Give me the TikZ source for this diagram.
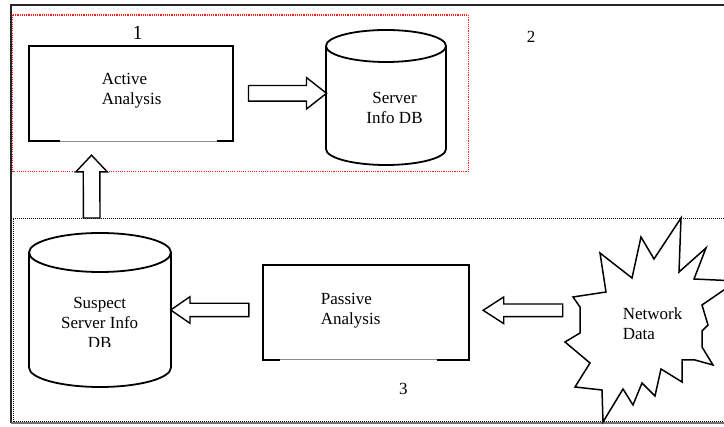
\documentclass[tikz,border=0pt]{standalone}
\usepackage{fontspec}
\setmainfont{Liberation Serif}
\usetikzlibrary{calc}

\tikzset{
  txt/.style={font=\fontsize{17}{20}\selectfont, inner sep=0pt},
  boxline/.style={line width=1.8pt, black},
  thinline/.style={line width=0.8pt, black!45},
  fatline/.style={line width=1.4pt, black, fill=white},
  dbspace/.style={inner sep=0pt, outer sep=0pt},
}

% hollow block arrow: tail, tip, half shaft, half head, head length
\newcommand\fatarrow[5]{%
  \coordinate (hb) at ($(#2)!#5!(#1)$);
  \draw[fatline] ($(#1)!#3!90:(#2)$) -- ($(hb)!#3!90:(#2)$) -- ($(hb)!#4!90:(#2)$) -- (#2)
    -- ($(hb)!#4!-90:(#2)$) -- ($(hb)!#3!-90:(#2)$) -- ($(#1)!#3!-90:(#2)$) -- cycle;
}
% upright drum round a node: node, half width, depth of the ends
\newcommand\drum[3]{%
  \draw[boxline] ($(#1.north)+(0pt,-#3)$) ellipse [x radius=#2, y radius=#3];
  \draw[boxline] ($(#1.north west)+(0pt,-#3)$) -- ($(#1.south west)+(0pt,#3)$)
    arc[start angle=180, end angle=360, x radius=#2, y radius=#3]
    -- ($(#1.north east)+(0pt,-#3)$);
}

\begin{document}
\begin{tikzpicture}[x=1pt,y=-1pt]
\clip (0,0) rectangle (724,427);
% outer frame
\draw[line width=1.5pt, black!85] (740,5) -- (11,5) -- (11,423);
\draw[line width=1.2pt, black!55] (11,423) -- (740,423);
% the two groups
\draw[red!90, line width=1.1pt, dash pattern=on 1.1pt off 1.1pt] (12.7,15) rectangle (468.3,171.7);
\draw[line width=1pt, dash pattern=on 1pt off 1pt] (740,218.3) -- (13,218.3) -- (13,422) -- (740,422);

\node[txt, font=\fontsize{20}{24}\selectfont, anchor=base] (n1) at (137.5,40) {1};
\node[txt, anchor=base] (n2) at (531,42.3) {2};
\node[txt, anchor=base] (n3) at (403.3,395) {3};

% active analysis
\node[minimum width=204pt, minimum height=95pt, inner sep=0pt] (act) at (131,93.5) {};
\draw[boxline] ($(act.south west)+(31,0)$) -- (act.south west) -- (act.north west)
  -- (act.north east) -- (act.south east) -- ++(-16,0);
\draw[thinline] ($(act.south west)+(31,0)$) -- ($(act.south east)+(-16,0)$);
\node[txt, align=left, anchor=north west] (actlbl) at (101.7,72.7) {Active\\Analysis};

% server info db
\node[dbspace, minimum width=120pt, minimum height=135pt] (srv) at (386,97.5) {};
\drum{srv}{60pt}{16pt}
\node[txt, align=center, anchor=north] (srvlbl) at (394.5,91.8) {Server\\Info DB};

% suspect server info db
\node[dbspace, minimum width=142pt, minimum height=154pt] (susp) at (100,310) {};
\drum{susp}{71pt}{19.5pt}
\begin{scope}
\clip (0,0) rectangle (724,346.5);
\node[txt, align=center, anchor=north] (susplbl) at (99.7,296.8) {Suspect\\Server Info\\DB};
\end{scope}

% passive analysis
\node[minimum width=205pt, minimum height=94pt, inner sep=0pt] (pas) at (366,312.5) {};
\draw[boxline] ($(pas.south west)+(16.5,0)$) -- (pas.south west) -- (pas.north west)
  -- (pas.north east) -- (pas.south east) -- ++(-31.6,0);
\draw[thinline] ($(pas.south west)+(16.5,0)$) -- ($(pas.south east)+(-31.6,0)$);
\node[txt, align=left, anchor=north west] (paslbl) at (320.7,293.4) {Passive\\Analysis};

% network data burst
\draw[line width=1.5pt] (573,297) -- (606,292) -- (600,253) -- (632,278) -- (641,237)
  -- (654,259) -- (681,218) -- (679,272) -- (706,248) -- (694,279) -- (737,281)
  -- (702,305) -- (708,325) -- (702,331) -- (702,347) -- (713,365) -- (695,360)
  -- (682,360) -- (682,382) -- (661,369) -- (655,396) -- (642,383) -- (633,405)
  -- (623,389) -- (603,422) -- (602,390) -- (575,387) -- (590,363) -- (565,342)
  -- (580,333) -- (580,307) -- cycle;
\node[txt, align=left, anchor=north west] (net) at (622.7,307.7) {Network\\Data};

% arrows between the parts
\coordinate (r1) at ($(act.east)+(15.3,-0.2)$);
\coordinate (r2) at ($(srv.center)+(-59.5,-4.2)$);
\fatarrow{r1}{r2}{7.8pt}{15.7pt}{20pt}
\coordinate (u1) at ($(susp.north)+(-8.3,-15)$);
\coordinate (u2) at ($(act.south west)+(62.7,14)$);
\fatarrow{u1}{u2}{8.3pt}{15.7pt}{16.7pt}
\coordinate (l1) at ($(pas.west)+(-14.5,-2.5)$);
\coordinate (l2) at ($(susp.east)+(-0.3,0)$);
\fatarrow{l1}{l2}{6.7pt}{13.3pt}{19.3pt}
\coordinate (m1) at ($(net.north west)+(-60,2.6)$);
\coordinate (m2) at ($(pas.east)+(14.4,-2.2)$);
\fatarrow{m1}{m2}{6.3pt}{13.3pt}{20.6pt}
\end{tikzpicture}
\end{document}
